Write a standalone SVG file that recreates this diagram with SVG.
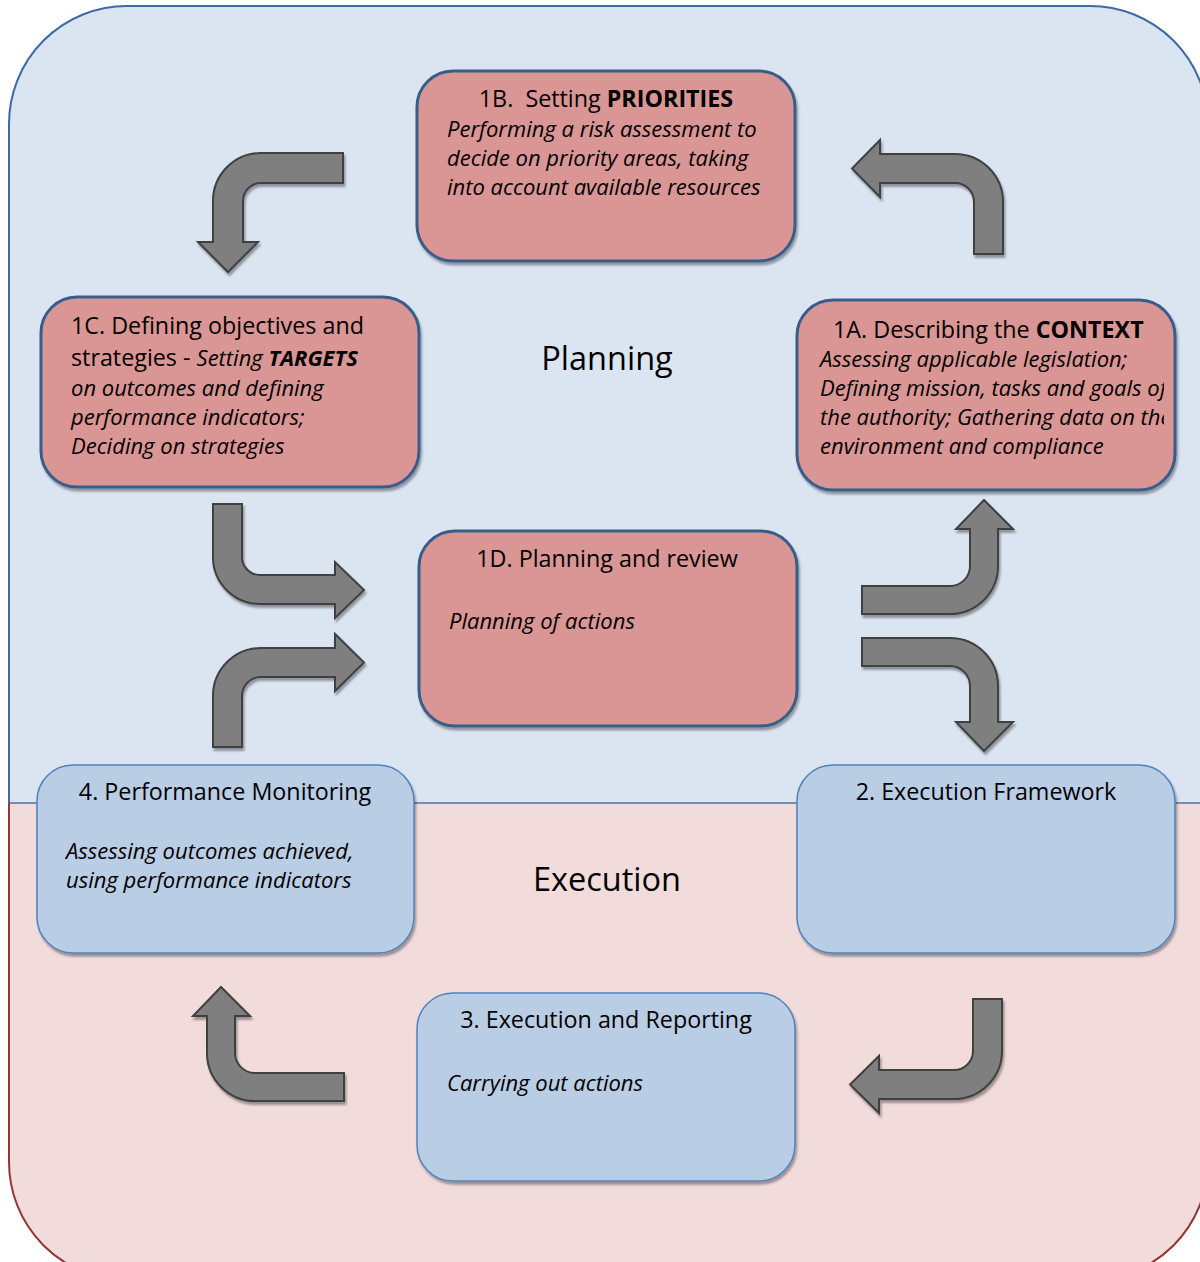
<svg xmlns="http://www.w3.org/2000/svg" width="1200" height="1262" viewBox="0 0 1200 1262">
  <style>
    text { font-family: "Open Sans", "Noto Sans", "Liberation Sans", sans-serif; fill: #000; }
    .h { font-size: 23.3px; }
    .b { font-size: 22px; font-style: italic; }
    .big { font-size: 32.5px; }
    .rbox { fill: #d99694; stroke: #385d8a; stroke-width: 3; }
    .bbox { fill: #b9cde5; stroke: #4f81bd; stroke-width: 1.5; }
    .arrow { fill: #7f7f7f; stroke: #404040; stroke-width: 2; stroke-linejoin: miter; }
  </style>
  <defs>
    <filter id="shadow" x="-10%" y="-10%" width="130%" height="130%">
      <feDropShadow dx="1.5" dy="3" stdDeviation="1.2" flood-color="#000" flood-opacity="0.35"/>
    </filter>
    <clipPath id="clip1a">
      <rect x="797" y="300" width="367" height="191"/>
    </clipPath>
  </defs>

  <!-- background: planning (top) and execution (bottom) zones -->
  <g id="background">
    <path d="M9,803 L9,124 A118,118 0 0 1 127,6 L1090,6 A118,118 0 0 1 1208,124 L1208,803 Z" fill="#dbe5f1"/>
    <path d="M9,803 L9,1162 A118,118 0 0 0 127,1280 L1090,1280 A118,118 0 0 0 1208,1162 L1208,803 Z" fill="#f2dcdb"/>
    <path d="M9,803 L9,124 A118,118 0 0 1 127,6 L1090,6 A118,118 0 0 1 1208,124 L1208,803" fill="none" stroke="#3d6aa5" stroke-width="2"/>
    <path d="M9,803 L9,1162 A118,118 0 0 0 127,1280 L1090,1280 A118,118 0 0 0 1208,1162 L1208,803" fill="none" stroke="#963634" stroke-width="2"/>
    <line x1="9" y1="803" x2="1208" y2="803" stroke="#56709c" stroke-width="1.5"/>
    <text class="big" x="607" y="370" text-anchor="middle">Planning</text>
    <text class="big" x="607" y="891" text-anchor="middle">Execution</text>
  </g>

  <!-- connectors: bent block arrows -->
  <g id="connectors" filter="url(#shadow)">
    <path class="arrow" d="M343,153 L261,153 A48,48 0 0 0 213,201 L213,242 L198,242 L228,272 L258,242 L243,242 L243,201 A18,18 0 0 1 261,183 L343,183 Z"/>
    <path class="arrow" d="M1003,254 L1003,202 A48,48 0 0 0 955,154 L880,154 L880,140 L852,168.5 L880,197 L880,183 L955,183 A19,19 0 0 1 974,202 L974,254 Z"/>
    <path class="arrow" d="M213,504 L213,557 A47,47 0 0 0 260,604 L335,604 L335,618 L364,590 L335,562 L335,575 L260,575 A18,18 0 0 1 242,557 L242,504 Z"/>
    <path class="arrow" d="M213,747 L213,696 A48,48 0 0 1 261,648 L335,648 L335,634 L364,662.5 L335,691 L335,677 L261,677 A19,19 0 0 0 242,696 L242,747 Z"/>
    <path class="arrow" d="M862,586 L950,586 A20,20 0 0 0 970,566 L970,529 L956,529 L984,500 L1013,529 L998,529 L998,566 A48,48 0 0 1 950,614 L862,614 Z"/>
    <path class="arrow" d="M862,638 L950,638 A48,48 0 0 1 998,686 L998,722 L1013,722 L984,751 L956,722 L970,722 L970,686 A20,20 0 0 0 950,666 L862,666 Z"/>
    <path class="arrow" d="M344,1073 L255,1073 A20,20 0 0 1 235,1053 L235,1016 L250,1016 L221,987 L193,1016 L207,1016 L207,1053 A48,48 0 0 0 255,1101 L344,1101 Z"/>
    <path class="arrow" d="M973,999 L973,1051 A19,19 0 0 1 954,1070 L879,1070 L879,1056 L850,1084.5 L879,1113 L879,1099 L954,1099 A48,48 0 0 0 1002,1051 L1002,999 Z"/>
  </g>

  <!-- 1B -->
  <g id="node-1b">
    <rect class="rbox" x="417" y="71" width="378" height="190" rx="36" filter="url(#shadow)"/>
    <text class="h" x="606" y="107" text-anchor="middle" xml:space="preserve">1B.  Setting <tspan font-weight="bold">PRIORITIES</tspan></text>
    <text class="b" x="447" y="137">Performing a risk assessment to</text>
    <text class="b" x="447" y="166">decide on priority areas, taking</text>
    <text class="b" x="447" y="195">into account available resources</text>
  </g>

  <!-- 1C -->
  <g id="node-1c">
    <rect class="rbox" x="41" y="297" width="378" height="190" rx="36" filter="url(#shadow)"/>
    <text class="h" x="71" y="334">1C. Defining objectives and</text>
    <text class="h" x="71" y="366" xml:space="preserve">strategies - <tspan class="b">Setting </tspan><tspan class="b" font-weight="bold">TARGETS</tspan></text>
    <text class="b" x="71" y="396">on outcomes and defining</text>
    <text class="b" x="71" y="425">performance indicators;</text>
    <text class="b" x="71" y="454">Deciding on strategies</text>
  </g>

  <!-- 1A -->
  <g id="node-1a">
    <rect class="rbox" x="797" y="300" width="378" height="190" rx="36" filter="url(#shadow)"/>
    <g clip-path="url(#clip1a)">
      <text class="h" x="833" y="338">1A. Describing the <tspan font-weight="bold">CONTEXT</tspan></text>
      <text class="b" x="820" y="367">Assessing applicable legislation;</text>
      <text class="b" x="820" y="396">Defining mission, tasks and goals of</text>
      <text class="b" x="820" y="425">the authority; Gathering data on the</text>
      <text class="b" x="820" y="454">environment and compliance</text>
    </g>
  </g>

  <!-- 1D -->
  <g id="node-1d">
    <rect class="rbox" x="419" y="531" width="378" height="195" rx="36" filter="url(#shadow)"/>
    <text class="h" x="607" y="567" text-anchor="middle">1D. Planning and review</text>
    <text class="b" x="449" y="629">Planning of actions</text>
  </g>

  <!-- 4 -->
  <g id="node-4">
    <rect class="bbox" x="37" y="765" width="377" height="188" rx="36" filter="url(#shadow)"/>
    <text class="h" x="225" y="800" text-anchor="middle">4. Performance Monitoring</text>
    <text class="b" x="66" y="859">Assessing outcomes achieved,</text>
    <text class="b" x="66" y="888">using performance indicators</text>
  </g>

  <!-- 2 -->
  <g id="node-2">
    <rect class="bbox" x="797" y="765" width="378" height="188" rx="36" filter="url(#shadow)"/>
    <text class="h" x="986" y="800" text-anchor="middle">2. Execution Framework</text>
  </g>

  <!-- 3 -->
  <g id="node-3">
    <rect class="bbox" x="417" y="993" width="378" height="188" rx="36" filter="url(#shadow)"/>
    <text class="h" x="606" y="1028" text-anchor="middle">3. Execution and Reporting</text>
    <text class="b" x="447" y="1091">Carrying out actions</text>
  </g>
</svg>
